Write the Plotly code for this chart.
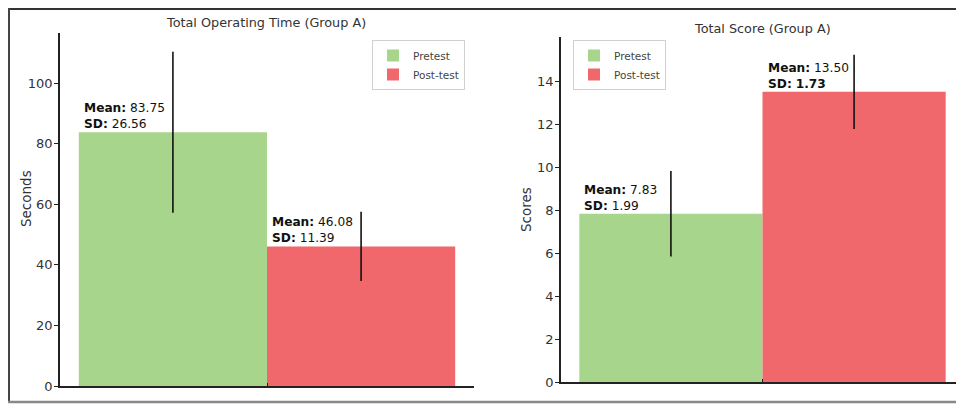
import plotly.graph_objects as go

# ---- data ----
groups = ["Pretest", "Post-test"]
time_mean = [83.75, 46.08]
time_sd = [26.56, 11.39]
score_mean = [7.83, 13.50]
score_sd = [1.99, 1.73]
bar_colors = ["#a8d58c", "#f0686b"]

# page has an 8px body margin, so figure origin sits at page (8, 8)
OFF = 8
W, H = 964 - OFF, 405 - OFF
FONT = "DejaVu Sans"

def px_x(x):
    return (x - OFF) / W

def px_y(y):
    return 1 - (y - OFF) / H

fig = go.Figure()

for i, g in enumerate(groups):
    fig.add_trace(go.Bar(
        x=[i], y=[time_mean[i]], width=1, name=g,
        marker=dict(color=bar_colors[i], line=dict(width=0)),
        error_y=dict(type="data", array=[time_sd[i]], color="#111", thickness=1.6, width=0),
        xaxis="x", yaxis="y", legend="legend", showlegend=True,
    ))
for i, g in enumerate(groups):
    fig.add_trace(go.Bar(
        x=[i], y=[score_mean[i]], width=1, name=g,
        marker=dict(color=bar_colors[i], line=dict(width=0)),
        error_y=dict(type="data", array=[score_sd[i]], color="#111", thickness=1.6, width=0),
        xaxis="x2", yaxis="y2", legend="legend2", showlegend=True,
    ))

axis_common = dict(showgrid=False, zeroline=False, showline=True, linecolor="#222",
                   linewidth=1.5, automargin=False)

fig.update_layout(
    width=W, height=H,
    margin=dict(l=0, r=0, t=0, b=0, autoexpand=False),
    paper_bgcolor="white", plot_bgcolor="white",
    barmode="overlay",
    font=dict(family=FONT, size=12, color="#333"),
    xaxis=dict(domain=[px_x(60), px_x(474)], range=[-0.6, 1.6], anchor="y",
               tickvals=[0.5], ticktext=[""], ticks="inside", ticklen=3, tickcolor="#222", **axis_common),
    yaxis=dict(domain=[px_y(386), px_y(33)], range=[0, 116.5], anchor="x",
               tickvals=[0, 20, 40, 60, 80, 100], ticks="outside", ticklen=4, tickcolor="#222",
               tickfont=dict(size=13, color="#333"), ticklabelstandoff=-1,
               **axis_common),
    xaxis2=dict(domain=[px_x(561), px_x(964)], range=[-0.6, 1.6], anchor="y2",
                tickvals=[0.5], ticktext=[""], ticks="inside", ticklen=3, tickcolor="#222", **axis_common),
    yaxis2=dict(domain=[px_y(382), px_y(37)], range=[0, 16.05], anchor="x2",
                tickvals=[0, 2, 4, 6, 8, 10, 12, 14], ticks="outside", ticklen=4, tickcolor="#222",
                tickfont=dict(size=13, color="#333"), ticklabelstandoff=-1,
                **axis_common),
    legend=dict(x=px_x(372), y=px_y(40), xanchor="left", yanchor="top",
                bgcolor="white", bordercolor="#d0d0d0", borderwidth=1,
                font=dict(size=10.5, color="#444"), tracegroupgap=0, itemwidth=30),
    legend2=dict(x=px_x(573), y=px_y(40), xanchor="left", yanchor="top",
                 bgcolor="white", bordercolor="#d0d0d0", borderwidth=1,
                 font=dict(size=10.5, color="#444"), tracegroupgap=0, itemwidth=30),
)

# titles
fig.add_annotation(text="Total Operating Time (Group A)", x=px_x(266), y=px_y(23),
                   xref="paper", yref="paper", showarrow=False,
                   font=dict(size=12.8, color="#333"), xanchor="center", yanchor="middle")
fig.add_annotation(text="Total Score (Group A)", x=px_x(762), y=px_y(29),
                   xref="paper", yref="paper", showarrow=False,
                   font=dict(size=12.8, color="#333"), xanchor="center", yanchor="middle")

# y-axis titles
fig.add_annotation(text="Seconds", x=px_x(26), y=px_y(199), xref="paper", yref="paper",
                   showarrow=False, textangle=-90, font=dict(size=13.5, color="#333"),
                   xanchor="center", yanchor="middle")
fig.add_annotation(text="Scores", x=px_x(526), y=px_y(210), xref="paper", yref="paper",
                   showarrow=False, textangle=-90, font=dict(size=13.5, color="#333"),
                   xanchor="center", yanchor="middle")

# value labels
def label(mean, sd, bold_sd_value=False):
    sd_txt = f"<b>{sd:.2f}</b>" if bold_sd_value else f"{sd:.2f}"
    return f"<b>Mean:</b> {mean:.2f}<br><b>SD:</b> {sd_txt}"

for i in range(2):
    fig.add_annotation(text=label(time_mean[i], time_sd[i]), x=i - 0.5, y=time_mean[i],
                       xref="x", yref="y", showarrow=False, xanchor="left", yanchor="bottom",
                       align="left", xshift=3, yshift=-1, font=dict(size=12.2, color="#111"))
for i in range(2):
    fig.add_annotation(text=label(score_mean[i], score_sd[i], bold_sd_value=(i == 1)),
                       x=i - 0.5, y=score_mean[i],
                       xref="x2", yref="y2", showarrow=False, xanchor="left", yanchor="bottom",
                       align="left", xshift=3, yshift=-1, font=dict(size=12.2, color="#111"))

# outer frame
fig.add_shape(type="line", xref="paper", yref="paper", x0=0, x1=1, y0=px_y(9), y1=px_y(9),
              line=dict(color="#333", width=2))
fig.add_shape(type="line", xref="paper", yref="paper", x0=px_x(9), x1=px_x(9), y0=px_y(8), y1=px_y(402),
              line=dict(color="#444", width=2))
fig.add_shape(type="line", xref="paper", yref="paper", x0=0, x1=1, y0=px_y(402), y1=px_y(402),
              line=dict(color="#888", width=2.5))

fig.write_html("out.html")
